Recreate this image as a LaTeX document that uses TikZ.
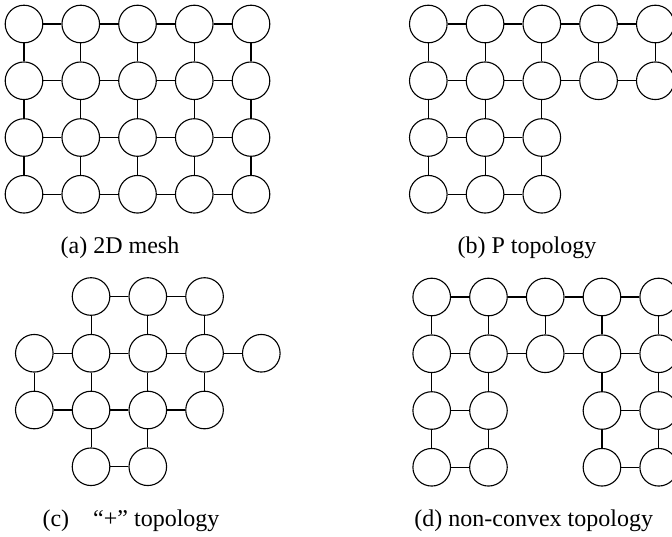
\documentclass[tikz,border=0pt]{standalone}
\usepackage{fontspec}
\setmainfont{Liberation Serif}
\begin{document}
\begin{tikzpicture}[x=1pt,y=-1pt,
  nd/.style={circle,draw,line width=1.1pt,minimum size=37.6pt,inner sep=0pt},
  ln/.style={line width=1.1pt},
  captxt/.style={anchor=base,inner sep=0pt,font=\fontsize{24}{28}\selectfont}]
\useasboundingbox (0,0) rectangle (672,536);
\def\sp{56.75}
% ---------- (a) 2D mesh ----------
\foreach \r in {0,...,3}
  \foreach \c in {0,...,4}
    \node[nd] (a\r\c) at ({24+\sp*\c},{24+\sp*\r}) {};
\foreach \r in {0,...,3}
  \foreach \c/\d in {0/1,1/2,2/3,3/4}
    \draw[ln] (a\r\c) -- (a\r\d);
\foreach \r/\s in {0/1,1/2,2/3}
  \foreach \c in {0,...,4}
    \draw[ln] (a\r\c) -- (a\s\c);
\node[captxt] (capa) at (120,253) {(a) 2D mesh};
% ---------- (b) P topology ----------
\foreach \r/\c in {0/0,0/1,0/2,0/3,0/4,1/0,1/1,1/2,1/3,1/4,2/0,2/1,2/2,3/0,3/1,3/2}
  \node[nd] (b\r\c) at ({428.3+\sp*\c},{24+\sp*\r}) {};
\foreach \r/\c/\d in {0/0/1,0/1/2,0/2/3,0/3/4,1/0/1,1/1/2,1/2/3,1/3/4,2/0/1,2/1/2,3/0/1,3/1/2}
  \draw[ln] (b\r\c) -- (b\r\d);
\foreach \r/\s/\c in {0/1/0,0/1/1,0/1/2,0/1/3,0/1/4,1/2/0,1/2/1,1/2/2,2/3/0,2/3/1,2/3/2}
  \draw[ln] (b\r\c) -- (b\s\c);
\node[captxt] (capb) at (527,253) {(b) P topology};
% ---------- (c) "+" topology ----------
\foreach \r/\c in {0/1,0/2,0/3,1/0,1/1,1/2,1/3,1/4,2/0,2/1,2/2,2/3,3/1,3/2}
  \node[nd] (c\r\c) at ({34.3+\sp*\c},{296.5+\sp*\r}) {};
\foreach \r/\c/\d in {0/1/2,0/2/3,1/0/1,1/1/2,1/2/3,1/3/4,2/0/1,2/1/2,2/2/3,3/1/2}
  \draw[ln] (c\r\c) -- (c\r\d);
\foreach \r/\s/\c in {0/1/1,0/1/2,0/1/3,1/2/0,1/2/1,1/2/2,1/2/3,2/3/1,2/3/2}
  \draw[ln] (c\r\c) -- (c\s\c);
\node[captxt] (capc) at (131,526) {(c)\hspace{1em}“+” topology};
% ---------- (d) non-convex topology ----------
\foreach \r/\c in {0/0,0/1,0/2,0/3,0/4,1/0,1/1,1/2,1/3,1/4,2/0,2/1,2/3,2/4,3/0,3/1,3/3,3/4}
  \node[nd] (d\r\c) at ({431.7+\sp*\c},{297+\sp*\r}) {};
\foreach \r/\c/\d in {0/0/1,0/1/2,0/2/3,0/3/4,1/0/1,1/1/2,1/2/3,1/3/4,2/0/1,2/3/4,3/0/1,3/3/4}
  \draw[ln] (d\r\c) -- (d\r\d);
\foreach \r/\s/\c in {0/1/0,0/1/1,0/1/2,0/1/3,0/1/4,1/2/0,1/2/1,1/2/3,1/2/4,2/3/0,2/3/1,2/3/3,2/3/4}
  \draw[ln] (d\r\c) -- (d\s\c);
\node[captxt] (capd) at (533.7,526) {(d) non-convex topology};
\end{tikzpicture}
\end{document}
